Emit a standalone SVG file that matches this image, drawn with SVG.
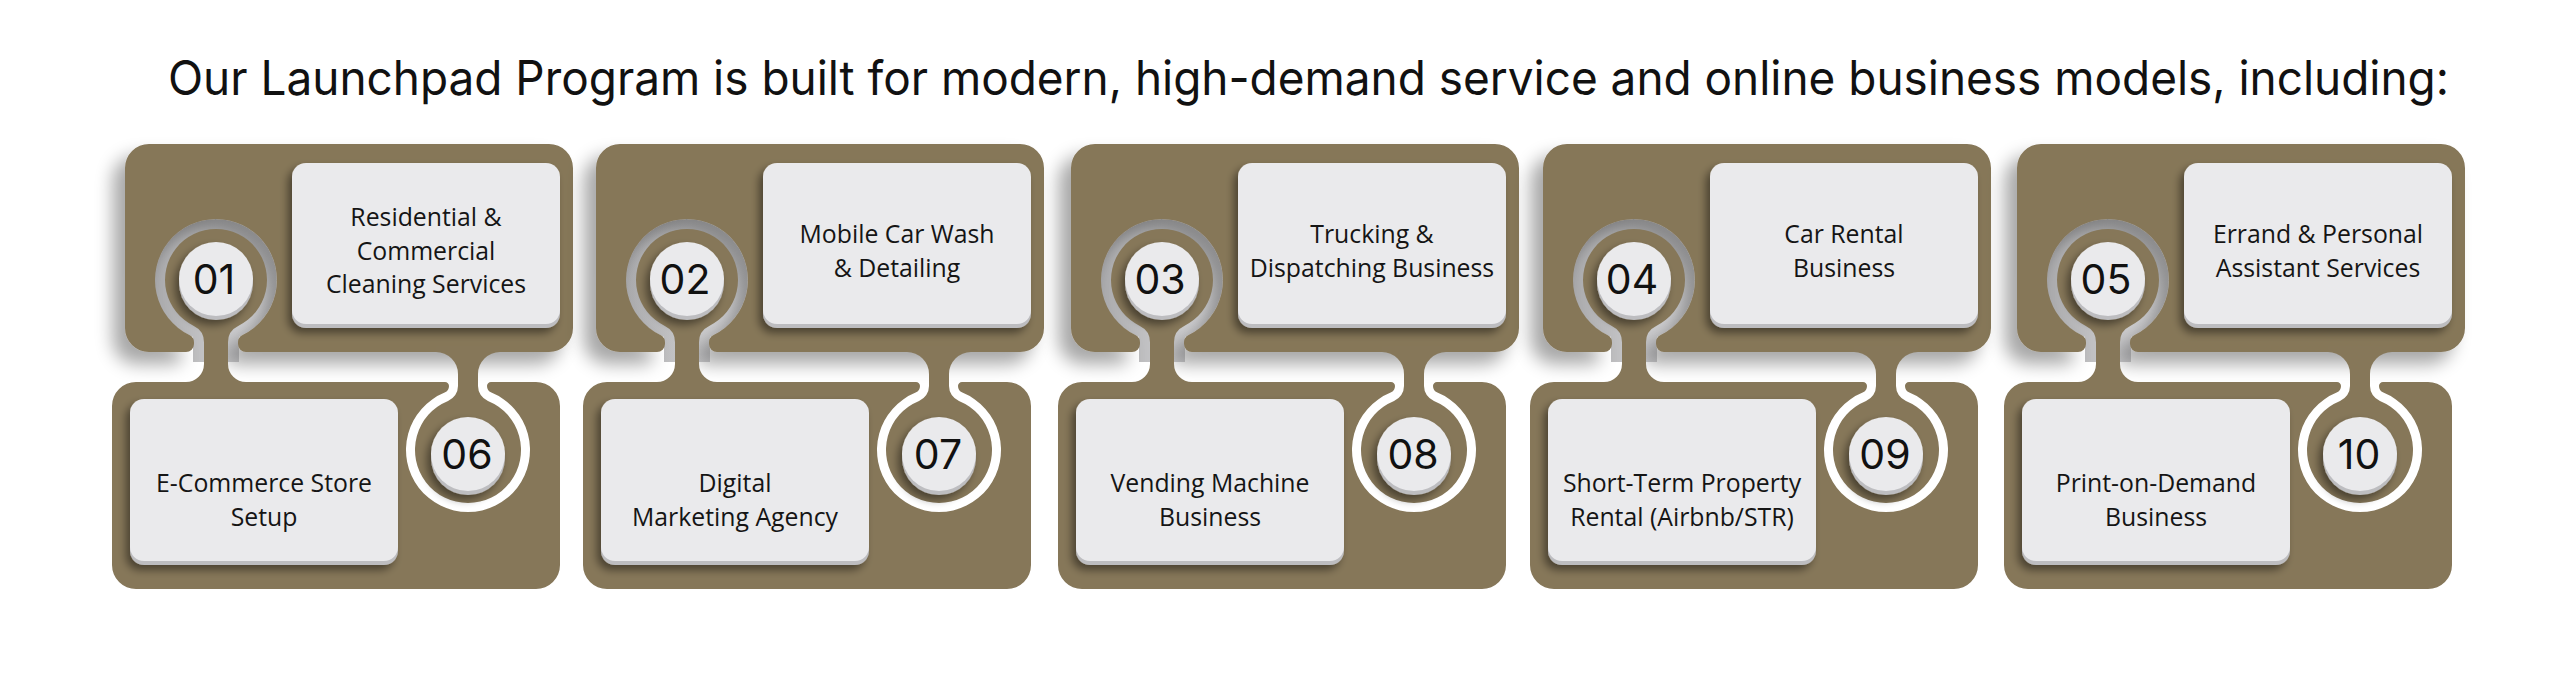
<svg xmlns="http://www.w3.org/2000/svg" width="2560" height="678" viewBox="0 0 2560 678">
<style>
.panel{fill:#867759}
.face{fill:#eaeaec}
.rim{fill:#bdbdc0}
.lbl{font-family:"Open Sans","Noto Sans",sans-serif;font-size:24.8px;fill:#151515;text-anchor:middle}
.num{font-family:Inter,"Noto Sans",sans-serif;font-size:41px;fill:#111;text-anchor:middle}
.title{font-family:Inter,"Noto Sans",sans-serif;font-size:48px;fill:#111}
</style>
<defs>
<linearGradient id="ringGrad" x1="0" y1="0" x2="1" y2="0">
<stop offset="0" stop-color="#a9a9ab"/><stop offset="0.5" stop-color="#c8c8ca"/><stop offset="1" stop-color="#dadadc"/>
</linearGradient>
<filter id="shT" x="-20%" y="-20%" width="140%" height="150%">
<feGaussianBlur in="SourceAlpha" stdDeviation="9"/><feOffset dx="-12" dy="12"/>
<feComponentTransfer><feFuncA type="linear" slope="0.35"/></feComponentTransfer>
<feMerge><feMergeNode/><feMergeNode in="SourceGraphic"/></feMerge>
</filter>
<filter id="shBox" x="-20%" y="-20%" width="140%" height="150%">
<feGaussianBlur in="SourceAlpha" stdDeviation="4"/><feOffset dx="-4" dy="5"/>
<feComponentTransfer><feFuncA type="linear" slope="0.45"/></feComponentTransfer>
<feMerge><feMergeNode/><feMergeNode in="SourceGraphic"/></feMerge>
</filter>
<path id="holeFill" d="M154,280 A62,62 0 1 1 278,280 A62,62 0 0 1 239,337 L239,362 L193,362 L193,337 A62,62 0 0 1 154,280 Z"/>
<path id="tBody" d="M125,168 A24,24 0 0 1 149,144 L549,144 A24,24 0 0 1 573,168 L573,328 A24,24 0 0 1 549,352 L246,352 A8,8 0 0 1 238,344 L238,342.14 A8,8 0 0 1 242.52,334.94 A61,61 0 1 0 189.48,334.94 A8,8 0 0 1 194,342.14 L194,344 A8,8 0 0 1 186,352 L149,352 A24,24 0 0 1 125,328 Z"/>
<path id="tKnob" d="M436,346 L500,346 L500,352 A22,22 0 0 0 478,374 L478,386.1 A16,16 0 0 0 487.97,400.92 A53,53 0 1 1 448.03,400.92 A16,16 0 0 0 458,386.1 L458,374 A22,22 0 0 0 436,352 Z"/>
<path id="bPanel" d="M112,406 A24,24 0 0 1 136,382 L186,382 A18,18 0 0 0 204,364 L204,342.14 A18,18 0 0 0 193.83,325.93 A51,51 0 1 1 238.17,325.93 A18,18 0 0 0 228,342.14 L228,364 A18,18 0 0 0 246,382 L445,382 A4,4 0 0 1 449,386.1 A7,7 0 0 1 444.64,392.58 A62,62 0 1 0 491.36,392.58 A7,7 0 0 1 487,386.1 A4,4 0 0 1 491,382 L536,382 A24,24 0 0 1 560,406 L560,565 A24,24 0 0 1 536,589 L136,589 A24,24 0 0 1 112,565 Z"/>
<g id="tBox"><rect class="rim" x="292" y="167" width="268" height="161" rx="14"/><rect class="face" x="292" y="163" width="268" height="161" rx="14"/></g>
<g id="bBox"><rect class="rim" x="130" y="403" width="268" height="162" rx="14"/><rect class="face" x="130" y="399" width="268" height="162" rx="14"/></g>
<g id="btnA"><circle class="rim" cx="216" cy="283" r="37"/><circle class="face" cx="216" cy="279" r="37"/></g>
<g id="btnB"><circle class="rim" cx="468" cy="458" r="37"/><circle class="face" cx="468" cy="454" r="37"/></g>
</defs>

<text id="title" class="title" x="168" y="95" textLength="2281" lengthAdjust="spacingAndGlyphs">Our Launchpad Program is built for modern, high-demand service and online business models, including:</text>

<g id="module-1" transform="translate(0,0)">
<use href="#holeFill" fill="url(#ringGrad)"/>
<use href="#tBody" class="panel" filter="url(#shT)"/>
<use href="#bPanel" class="panel"/>
<use href="#tKnob" class="panel"/>
<g id="item-01"><use href="#btnA" filter="url(#shBox)"/><text class="num" x="214" y="294">01</text>
<use href="#tBox" filter="url(#shBox)"/><text class="lbl" x="426" y="226">Residential &amp;</text><text class="lbl" x="426" y="259.5">Commercial</text><text class="lbl" x="426" y="293">Cleaning Services</text></g>
<g id="item-06"><use href="#btnB" filter="url(#shBox)"/><text class="num" x="467" y="469">06</text>
<use href="#bBox" filter="url(#shBox)"/><text class="lbl" x="264" y="492">E-Commerce Store</text><text class="lbl" x="264" y="525.5">Setup</text></g>
</g>

<g id="module-2" transform="translate(471,0)">
<use href="#holeFill" fill="url(#ringGrad)"/>
<use href="#tBody" class="panel" filter="url(#shT)"/>
<use href="#bPanel" class="panel"/>
<use href="#tKnob" class="panel"/>
<g id="item-02"><use href="#btnA" filter="url(#shBox)"/><text class="num" x="214" y="294">02</text>
<use href="#tBox" filter="url(#shBox)"/><text class="lbl" x="426" y="243">Mobile Car Wash</text><text class="lbl" x="426" y="276.5">&amp; Detailing</text></g>
<g id="item-07"><use href="#btnB" filter="url(#shBox)"/><text class="num" x="467" y="469">07</text>
<use href="#bBox" filter="url(#shBox)"/><text class="lbl" x="264" y="492">Digital</text><text class="lbl" x="264" y="525.5">Marketing Agency</text></g>
</g>

<g id="module-3" transform="translate(946,0)">
<use href="#holeFill" fill="url(#ringGrad)"/>
<use href="#tBody" class="panel" filter="url(#shT)"/>
<use href="#bPanel" class="panel"/>
<use href="#tKnob" class="panel"/>
<g id="item-03"><use href="#btnA" filter="url(#shBox)"/><text class="num" x="214" y="294">03</text>
<use href="#tBox" filter="url(#shBox)"/><text class="lbl" x="426" y="243">Trucking &amp;</text><text class="lbl" x="426" y="276.5">Dispatching Business</text></g>
<g id="item-08"><use href="#btnB" filter="url(#shBox)"/><text class="num" x="467" y="469">08</text>
<use href="#bBox" filter="url(#shBox)"/><text class="lbl" x="264" y="492">Vending Machine</text><text class="lbl" x="264" y="525.5">Business</text></g>
</g>

<g id="module-4" transform="translate(1418,0)">
<use href="#holeFill" fill="url(#ringGrad)"/>
<use href="#tBody" class="panel" filter="url(#shT)"/>
<use href="#bPanel" class="panel"/>
<use href="#tKnob" class="panel"/>
<g id="item-04"><use href="#btnA" filter="url(#shBox)"/><text class="num" x="214" y="294">04</text>
<use href="#tBox" filter="url(#shBox)"/><text class="lbl" x="426" y="243">Car Rental</text><text class="lbl" x="426" y="276.5">Business</text></g>
<g id="item-09"><use href="#btnB" filter="url(#shBox)"/><text class="num" x="467" y="469">09</text>
<use href="#bBox" filter="url(#shBox)"/><text class="lbl" x="264" y="492">Short-Term Property</text><text class="lbl" x="264" y="525.5">Rental (Airbnb/STR)</text></g>
</g>

<g id="module-5" transform="translate(1892,0)">
<use href="#holeFill" fill="url(#ringGrad)"/>
<use href="#tBody" class="panel" filter="url(#shT)"/>
<use href="#bPanel" class="panel"/>
<use href="#tKnob" class="panel"/>
<g id="item-05"><use href="#btnA" filter="url(#shBox)"/><text class="num" x="214" y="294">05</text>
<use href="#tBox" filter="url(#shBox)"/><text class="lbl" x="426" y="243">Errand &amp; Personal</text><text class="lbl" x="426" y="276.5">Assistant Services</text></g>
<g id="item-10"><use href="#btnB" filter="url(#shBox)"/><text class="num" x="467" y="469">10</text>
<use href="#bBox" filter="url(#shBox)"/><text class="lbl" x="264" y="492">Print-on-Demand</text><text class="lbl" x="264" y="525.5">Business</text></g>
</g>
</svg>
